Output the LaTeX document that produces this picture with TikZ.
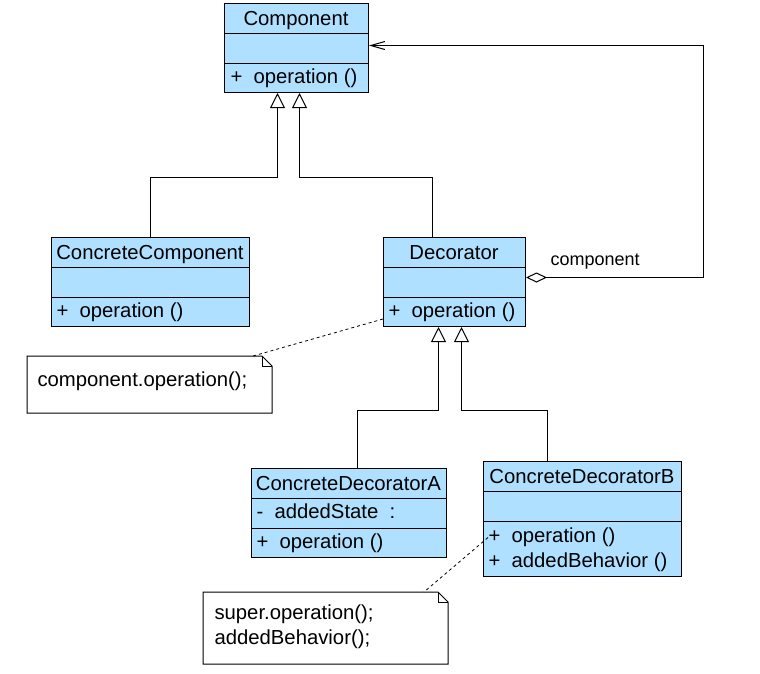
\documentclass[tikz,border=0pt]{standalone}
\usepackage{fontspec}
\setmainfont{Liberation Sans}
\usetikzlibrary{arrows.meta}
\definecolor{clsfill}{RGB}{176,224,255}
\begin{document}
\begin{tikzpicture}[x=1pt,y=-1pt,line width=1pt,
  font=\fontsize{20.3}{24}\selectfont,
  classbox/.style={draw, fill=clsfill, inner sep=0pt, anchor=north west},
  notebox/.style={inner sep=0pt, anchor=north west},
  title/.style={anchor=base, inner sep=0pt},
  member/.style={anchor=base west, inner sep=0pt},
  inherit/.style={-{Triangle[open, length=15pt, width=15pt, line width=1pt, fill=white]}},
  aggr/.style={{Diamond[open, length=21pt, width=10pt, line width=1pt, fill=white]}-{Straight Barb[length=14pt, width=8pt, line width=1pt]}},
  notelink/.style={dash pattern=on 3pt off 3pt, line width=0.8pt}]
\useasboundingbox (0,0) rectangle (760,673);

% Component
\node[classbox, minimum width=144pt, minimum height=89pt] (comp) at (224,3) {};
\draw (224,33) -- (368,33) (224,63) -- (368,63);
\node[title] (compT) at (296,25) {Component};
\node[member] (compO) at (230,83) {+~~operation ()};

% ConcreteComponent
\node[classbox, minimum width=198pt, minimum height=89pt] (cc) at (51,237) {};
\draw (51,267) -- (249,267) (51,297) -- (249,297);
\node[title] (ccT) at (150,259) {ConcreteComponent};
\node[member] (ccO) at (56,317) {+~~operation ()};

% Decorator
\node[classbox, minimum width=142pt, minimum height=89pt] (dec) at (383,237) {};
\draw (383,267) -- (525,267) (383,297) -- (525,297);
\node[title] (decT) at (454,259) {Decorator};
\node[member] (decO) at (388,317) {+~~operation ()};

% ConcreteDecoratorA
\node[classbox, minimum width=195pt, minimum height=89pt] (cda) at (251,468) {};
\draw (251,498) -- (446,498) (251,528) -- (446,528);
\node[title] (cdaT) at (348.5,490) {ConcreteDecoratorA};
\node[member] (cdaA) at (256,518) {-~~addedState~~:};
\node[member] (cdaO) at (256,548) {+~~operation ()};

% ConcreteDecoratorB
\node[classbox, minimum width=198pt, minimum height=115pt] (cdb) at (483,461) {};
\draw (483,491) -- (681,491) (483,521) -- (681,521);
\node[title] (cdbT) at (582,483) {ConcreteDecoratorB};
\node[member] (cdbO) at (488,542) {+~~operation ()};
\node[member] (cdbB) at (488,567) {+~~addedBehavior ()};

% Note 1
\node[notebox, minimum width=244pt, minimum height=56pt] (note1) at (27,356) {};
\draw (note1.north west) -- ([xshift=-10pt]note1.north east) -- ([yshift=-10pt]note1.north east)
  -- (note1.south east) -- (note1.south west) -- cycle;
\draw ([xshift=-10pt]note1.north east) -- ([xshift=-10pt,yshift=-10pt]note1.north east) -- ([yshift=-10pt]note1.north east);
\node[member] (note1T) at (37,386) {component.operation();};

% Note 2
\node[notebox, minimum width=244pt, minimum height=71pt] (note2) at (203,592) {};
\draw (note2.north west) -- ([xshift=-10pt]note2.north east) -- ([yshift=-10pt]note2.north east)
  -- (note2.south east) -- (note2.south west) -- cycle;
\draw ([xshift=-10pt]note2.north east) -- ([xshift=-10pt,yshift=-10pt]note2.north east) -- ([yshift=-10pt]note2.north east);
\node[member] (note2T1) at (214,619) {super.operation();};
\node[member] (note2T2) at (214,644) {addedBehavior();};

% Generalizations
\draw[inherit] (cc.north) -- ++(0,-60) -| ([xshift=-19pt]comp.south);
\draw[inherit] ([xshift=-22pt]dec.north) -- ++(0,-60) -| ([xshift=3pt]comp.south);
\draw[inherit] ([xshift=8.5pt]cda.north) -- ++(0,-58) -| ([xshift=-16pt]dec.south);
\draw[inherit] ([xshift=-35pt]cdb.north) -- ++(0,-51) -| ([xshift=7pt]dec.south);

% Aggregation
\draw[aggr] ([yshift=4.5pt]dec.east) -- ++(177,0) |- ([yshift=2.5pt]comp.east);
\node[anchor=base west, inner sep=0pt, font=\fontsize{18}{21}\selectfont] (aggrL) at (550,265) {component};

% Note links
\draw[notelink] ([yshift=8pt]dec.south west) -- ([xshift=-19pt]note1.north east);
\draw[notelink] ([xshift=5pt,yshift=-18.5pt]cdb.west) -- ([xshift=-24pt]note2.north east);
\end{tikzpicture}
\end{document}
